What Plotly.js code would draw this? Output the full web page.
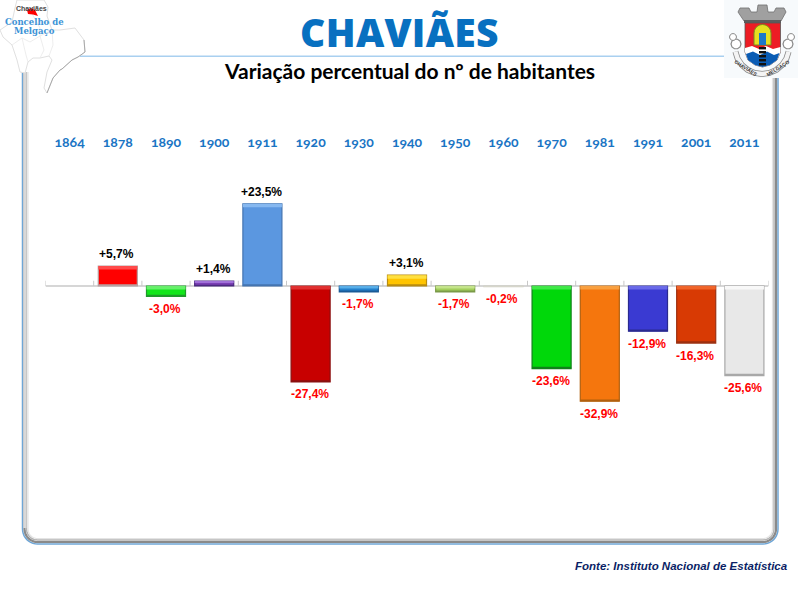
<!DOCTYPE html>
<html><head><meta charset="utf-8">
<script src="https://cdn.plot.ly/plotly-3.0.1.min.js"></script>
<style>
html,body{margin:0;padding:0;background:#fff}
.xtick text{font-feature-settings:"onum" 1;font-variant-numeric:oldstyle-nums}
.gtitle{letter-spacing:0.3px}
</style></head><body><div id="chart" style="width:800px;height:600px"></div>
<script>
const years = ['1864','1878','1890','1900','1911','1920','1930','1940','1950','1960','1970','1981','1991','2001','2011'];
const change = [null,5.7,-3.0,1.4,23.5,-27.4,-1.7,3.1,-1.7,-0.2,-23.6,-32.9,-12.9,-16.3,-25.6];
const labels = ['','+5,7%','-3,0%','+1,4%','+23,5%','-27,4%','-1,7%','+3,1%','-1,7%','-0,2%','-23,6%','-32,9%','-12,9%','-16,3%','-25,6%'];
const fills = ['#ffffff','#ff0000','#12e61a','#7b3fb5','#5b97e0','#c80000','#2380cc','#ffc400','#a2cf5c','#e8eee0','#00d80a','#f5760d','#3a3ad2','#d83a04','#e8e8e8'];
const edges = ['#ffffff','#b8a0a0','#1f9a2a','#4b2a80','#4474b0','#8a1010','#1a5a96','#b88c10','#7a9a48','#d0d0c4','#10801a','#b0600f','#2a2a90','#9c3010','#a8a8a8'];
const tops = ['#ffffff','#ff4a4a','#66f06a','#a070d8','#86b8f0','#e03030','#58aee8','#ffe040','#c4e48a','#f2f4ea','#40e848','#f9a040','#6a6ae8','#f0642a','#f8f8f8'];

const X = p => p/800, Y = p => 1 - p/600;
const path = pts => 'M' + pts.map(p => X(p[0]).toFixed(5)+','+Y(p[1]).toFixed(5)).join(' L') + ' Z';
const line = (pts) => 'M' + pts.map(p => X(p[0]).toFixed(5)+','+Y(p[1]).toFixed(5)).join(' L');
const P = (d, o) => Object.assign({type:'path', xref:'paper', yref:'paper', path:d, line:{width:0}}, o);
const R = (x0,y0,x1,y1,fill,o) => Object.assign({type:'rect', xref:'paper', yref:'paper', x0:X(x0), x1:X(x1), y0:Y(y0), y1:Y(y1), fillcolor:fill, line:{width:0}}, o||{});
function arc(cx,cy,r,a0,a1){ const n=10,o=[]; for(let i=0;i<=n;i++){const a=(a0+(a1-a0)*i/n)*Math.PI/180;o.push([cx+r*Math.cos(a),cy+r*Math.sin(a)]);} return o; }
const none='rgba(0,0,0,0)';
function frameU(inset,color,w){
  const l=22.5+inset,r=778-inset,b=544-inset,rad=15-inset;
  const pts=[[l,72]].concat(arc(l+rad,b-rad,rad,180,90)).concat(arc(r-rad,b-rad,rad,90,0)).concat([[r,75]]);
  return P(line(pts),{line:{color:color,width:w},fillcolor:none});
}

const shapes = [];
// panel frame
shapes.push(frameU(0,'#6fa6d6',1.5));
shapes.push(frameU(2,'#8a8a8a',2.2));
shapes.push(frameU(4,'#b4b4b4',1.5));
shapes.push(frameU(5.5,'#e4e4e4',1.2));
shapes.push(R(23.3,72,26.5,528,'#d8d8d8'));
shapes.push(R(80,55.5,725,57,'#a9d0f0'));

// map at top left
const mapOutline=[[17,0],[44,0],[48,7],[47,16],[52,30],[60,30],[75,28],[84,40],[85,52],[78,57],[72,60],[62,69],[60,70],[53,78],[47,93],[44,88],[47,72],[52,60],[49,56],[40,58],[33,58],[28,62],[25,73],[20,72],[17,60],[12,45],[3,37],[0,30],[12,22],[15,8]];
shapes.push(P(path(mapOutline),{fillcolor:'#ffffff',line:{color:'#e0e0e0',width:1}}));
shapes.push(P(line([[84,40],[85,52],[78,57],[72,60],[62,69],[60,70],[53,78],[47,93]]),{fillcolor:none,line:{color:'#a8a8a8',width:1}}));
[[[12,45],[22,38],[30,42],[40,36],[52,30]],[[40,36],[44,50],[40,58]],[[22,38],[26,55],[28,62]],[[30,10],[40,28],[40,36]],[[52,30],[53,45],[49,56]]].forEach(s=>{
  shapes.push(P(line(s),{fillcolor:none,line:{color:'#e8e8e8',width:0.8}}));
});
shapes.push(P(path([[27,10],[31,8],[35,10],[38,16],[33,14.5],[28,14]]),{fillcolor:'#ff0000'}));

// coat of arms
shapes.push(R(724,0,798,78,'#f7fafc'));
const cg='#a0a0a0';
// scroll
shapes.push(P(line(arc(762,47,27,170,10)),{fillcolor:none,line:{color:'#8a8a8a',width:6}}));
shapes.push(P(line(arc(762,47,27,170,10)),{fillcolor:none,line:{color:'#f4f4f4',width:4.4}}));
shapes.push(P(path(arc(736,44,5,0,360)),{fillcolor:'#ffffff',line:{color:'#8a8a8a',width:1.2}}));
shapes.push(P(path(arc(788,44,5,0,360)),{fillcolor:'#ffffff',line:{color:'#8a8a8a',width:1.2}}));
shapes.push(P(path(arc(733,37,3.5,0,360)),{fillcolor:'#ffffff',line:{color:'#8a8a8a',width:1}}));
shapes.push(P(path(arc(791,37,3.5,0,360)),{fillcolor:'#ffffff',line:{color:'#8a8a8a',width:1}}));
// crown
shapes.push(P(path([[738,12],[744,21],[781,21],[786,12],[784,8],[776,8],[774,12],[768,12],[767,5],[758,5],[757,12],[751,12],[749,8],[740,8]]),{fillcolor:cg,line:{color:'#707070',width:0.8}}));
shapes.push(R(744,20,781,23,'#5c5c5c'));
// shield
const shield=[[745,23],[780.5,23],[780.5,52],[777,60],[770,65],[762.5,67],[755,65],[748,60],[745,52]];
shapes.push(P(path(shield),{fillcolor:'#ed1c24',line:{color:'#555555',width:0.8}}));
shapes.push(P(path([[745,48],[752,46],[759,49],[766,46],[773,49],[780.5,47],[780.5,52],[777,60],[770,65],[762.5,67],[755,65],[748,60],[745,52]]),{fillcolor:'#ffffff'}));
shapes.push(P(path([[746,54],[753,51.5],[760,55],[767,51.5],[774,55],[779.5,53],[777,60],[770,65],[762.5,67],[755,65],[748,60]]),{fillcolor:'#0a5cb4'}));
shapes.push(P(path([[754,45],[754,33]].concat(arc(762.5,33,8.5,180,360)).concat([[771,45]])),{fillcolor:'#e6e020',line:{color:'#7a8a20',width:1}}));
shapes.push(R(759,33,766,45,'#1c78c8'));
for(let k=0;k<5;k++) shapes.push(R(759,47+k*4,766,49.4+k*4,'#111111'));

// axis ticks and bevel strips, positioned through the chart's own axes
years.forEach((y,i)=>{
  shapes.push({type:'line',xref:'x',yref:'y',x0:i-0.5,x1:i-0.5,y0:0,y1:1.5,line:{color:'#c8c8c8',width:1}});
  if(change[i]!==null){
    const top=Math.max(change[i],0), low=Math.min(change[i],0), h=Math.min(1,Math.abs(change[i])*0.4), d=Math.min(0.5,Math.abs(change[i])*0.25);
    shapes.push({type:'rect',xref:'x',yref:'y',x0:i-0.405,x1:i+0.405,y0:top-h,y1:top,fillcolor:tops[i],line:{width:0},layer:'above'});
    shapes.push({type:'rect',xref:'x',yref:'y',x0:i-0.405,x1:i+0.405,y0:low,y1:low+d,fillcolor:edges[i],line:{width:0},layer:'above'});
  }
});
shapes.push({type:'line',xref:'x',yref:'y',x0:-0.5,x1:14.5,y0:0,y1:0,line:{color:'#c8c8c8',width:1.5},layer:'below'});
shapes.push({type:'line',xref:'x',yref:'y',x0:14.5,x1:14.5,y0:0,y1:1.5,line:{color:'#c8c8c8',width:1}});

const annotations = years.map((y,i)=> labels[i]==='' ? null : ({
  xref:'x',yref:'y',x:i,y:change[i],text:labels[i],showarrow:false,
  yanchor:'middle',xanchor:'center',xshift:-1,yshift:change[i]>0?12:(change[i]>-1?-12:-12.5),
  font:{family:'Liberation Sans',size:12,color:change[i]>0?'#000000':'#ff0000',weight:700}
})).filter(Boolean);
const note=(t,x,y,font,o)=>Object.assign({xref:'paper',yref:'paper',x:X(x),y:Y(y),text:t,showarrow:false,font:font,yanchor:'middle',xanchor:'center'},o||{});
annotations.push(note('Variação percentual do nº de habitantes',410,70.5,{family:'Lato',size:21,color:'#000000',weight:700}));
annotations.push(note('Fonte: Instituto Nacional de Estatística',790,566,{family:'Liberation Sans',size:11.5,color:'#0b1f66',weight:700,style:'italic'},{xanchor:'right'}));
annotations.push(note('Chaviães',31,8.5,{family:'Liberation Sans',size:7,color:'#444444',weight:700}));
annotations.push(note('Concelho de',34.5,21.5,{family:'DejaVu Serif',size:8.5,color:'#3d93d6',weight:700}));
annotations.push(note('Melgaço',34.5,31,{family:'DejaVu Serif',size:8.5,color:'#3d93d6',weight:700}));
annotations.push(note('CHAVIÃES',746,68,{family:'Liberation Sans',size:5,color:'#333333',weight:700},{textangle:32}));
annotations.push(note('MELGAÇO',778,68,{family:'Liberation Sans',size:5,color:'#333333',weight:700},{textangle:-32}));

const trace = {type:'bar',x:years,y:change,width:0.81,
  marker:{color:fills,line:{color:edges,width:1.2}},hoverinfo:'skip',cliponaxis:false};

const layout = {
  width:800,height:600,margin:{l:0,r:0,t:0,b:0,pad:0},
  paper_bgcolor:'#ffffff',plot_bgcolor:'rgba(0,0,0,0)',showlegend:false,
  title:{text:'CHAVIÃES',x:X(399.5),y:Y(33),xanchor:'center',yanchor:'middle',xref:'paper',yref:'paper',
    font:{family:'Open Sans',size:39,color:'#0870c0',weight:800}},
  xaxis:{type:'category',categoryorder:'array',categoryarray:years,domain:[X(45.5),X(768.5)],side:'top',
    showline:false,showgrid:false,zeroline:false,ticks:'',automargin:false,
    tickfont:{family:'Lato',size:14,color:'#1a75c4',weight:700},range:[-0.5,14.5]},
  yaxis:{domain:[Y(530),Y(151)],range:[-69.714,38.571],visible:false,fixedrange:true,automargin:false},
  shapes:shapes,annotations:annotations,bargap:0.19
};
Plotly.newPlot('chart',[trace],layout,{displayModeBar:false,staticPlot:true});
</script></body></html>
